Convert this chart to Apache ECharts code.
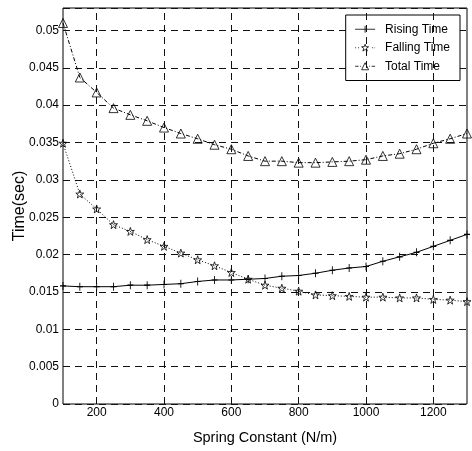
<!DOCTYPE html>
<html><head><meta charset="utf-8">
<script src="https://cdn.jsdelivr.net/npm/echarts@6/dist/echarts.min.js"></script>
<style>html,body{margin:0;padding:0;background:#fff}#c{width:472px;height:451px}</style>
</head><body><div id="c"></div>
<script>
const springK = [100,150,200,250,300,350,400,450,500,550,600,650,700,750,800,850,900,950,1000,1050,1100,1150,1200,1250,1300];
const risingTime = [0.0158,0.0157,0.0157,0.0157,0.0159,0.0159,0.0160,0.0161,0.0164,0.0166,0.0166,0.0167,0.0168,0.0171,0.0172,0.0175,0.0179,0.0182,0.0184,0.0191,0.0197,0.0203,0.0211,0.0219,0.0227];
const fallingTime = [0.0349,0.0281,0.0261,0.0240,0.0231,0.0220,0.0211,0.0202,0.0193,0.0185,0.0176,0.0167,0.0159,0.0155,0.0151,0.0146,0.0145,0.0144,0.0143,0.0143,0.0142,0.0142,0.0140,0.0139,0.0137];
const totalTime = [0.0510,0.0437,0.0417,0.0396,0.0387,0.0379,0.0370,0.0362,0.0355,0.0347,0.0341,0.0332,0.0325,0.0325,0.0323,0.0323,0.0324,0.0325,0.0327,0.0332,0.0335,0.0341,0.0349,0.0355,0.0362];
const xTicks = [200,400,600,800,1000,1200];
const seriesNames = ['Rising Time','Falling Time','Total Time'];

const FONT = '"Liberation Sans", Arial, sans-serif';
const gridDash = [7,5];
const star = 'path://M0,-10 L2.35,-3.09 L9.51,-3.09 L3.8,1.18 L5.88,8.09 L0,3.82 L-5.88,8.09 L-3.8,1.18 L-9.51,-3.09 L-2.35,-3.09 Z';
const plus = 'path://M5,0 L5,10 M1,5 L9,5';
const pts = arr => springK.map((k,i)=>[k,arr[i]]);
const symbols = [plus, star, 'triangle'];
// legend glyphs: line sample + marker, drawn in a 20x10 box
const legendIcons = [
  'path://M0,0 M20,10 M0,5 L20,5 M10,1.5 L10,8.5',
  'path://M0,0 M20,10 M0,5 L1,5 M3,5 L4,5 M17,5 L18,5 M19.5,5 L20,5 M10,1.5 L10.9,4 L13.5,4 L11.4,5.6 L12.2,8.3 L10,6.7 L7.8,8.3 L8.6,5.6 L6.5,4 L9.1,4 Z',
  'path://M0,0 M20,10 M0,5 L3.5,5 M5,5 L5.8,5 M14.2,5 L15,5 M16.5,5 L20,5 M6.5,8.5 L10,1.5 L13.5,8.5 Z'
];

const chart = echarts.init(document.getElementById('c'), null, {renderer:'canvas'});
chart.setOption({
  animation:false,
  backgroundColor:'#fff',
  grid:{left:63,right:5,top:8,bottom:47,show:true,borderColor:'#000',borderWidth:1,backgroundColor:'transparent',
    containLabel:false, outerBoundsMode:'none'},
  legend:{
    data:seriesNames.map((n,i)=>({name:n, icon:legendIcons[i],
      itemStyle:{color:'#fff', borderColor:'#000', borderWidth:0.8}})),
    orient:'vertical', right:12, top:15,
    backgroundColor:'#fff', borderColor:'#000', borderWidth:1, padding:[7,10,7,9],
    itemGap:4, itemWidth:20, itemHeight:10,
    textStyle:{fontFamily:FONT, fontSize:12, color:'#000', lineHeight:14.5, padding:[0,0,0,5]}
  },
  xAxis:{
    type:'value', min:100, max:1300, interval:100,
    name:'Spring Constant (N/m)', nameLocation:'middle', nameGap:26, nameMoveOverlap:false,
    nameTextStyle:{fontFamily:FONT, fontSize:14.5, color:'#000'},
    axisLine:{show:false},
    axisTick:{show:false},
    splitLine:{show:false},
    axisLabel:{fontFamily:FONT, fontSize:12, color:'#000', margin:3,
      formatter:v=> xTicks.indexOf(v)>=0 ? String(v) : ''}
  },
  yAxis:{
    type:'value', min:0, max:0.053, interval:0.005,
    name:'Time(sec)', nameLocation:'middle', nameGap:35, nameMoveOverlap:false,
    nameTextStyle:{fontFamily:FONT, fontSize:16, color:'#000'},
    axisLine:{show:false},
    axisTick:{show:false},
    splitLine:{show:true, lineStyle:{color:'#111', type:gridDash, width:1}},
    axisLabel:{fontFamily:FONT, fontSize:12, color:'#000', margin:4, showMaxLabel:false,
      formatter:v=> String(parseFloat(v.toFixed(3)))}
  },
  series:[
    {name:seriesNames[0], type:'line', data:pts(risingTime), symbol:symbols[0], symbolSize:[6,8],
      lineStyle:{color:'#000', width:1, type:'solid'},
      itemStyle:{color:'#000', borderColor:'#000', borderWidth:1},
      markLine:{silent:true, symbol:['none','none'], label:{show:false},
        lineStyle:{color:'#111', type:gridDash, width:1},
        data:xTicks.map(v=>({xAxis:v}))}
    },
    {name:seriesNames[1], type:'line', data:pts(fallingTime), symbol:symbols[1], symbolSize:8,
      lineStyle:{color:'#000', width:1, type:[1,2]},
      itemStyle:{color:'transparent', borderColor:'#000', borderWidth:0.8}
    },
    {name:seriesNames[2], type:'line', data:pts(totalTime), symbol:symbols[2], symbolSize:9,
      lineStyle:{color:'#000', width:1, type:[4,2,1,2]},
      itemStyle:{color:'transparent', borderColor:'#000', borderWidth:0.8}
    }
  ]
});
</script></body></html>
